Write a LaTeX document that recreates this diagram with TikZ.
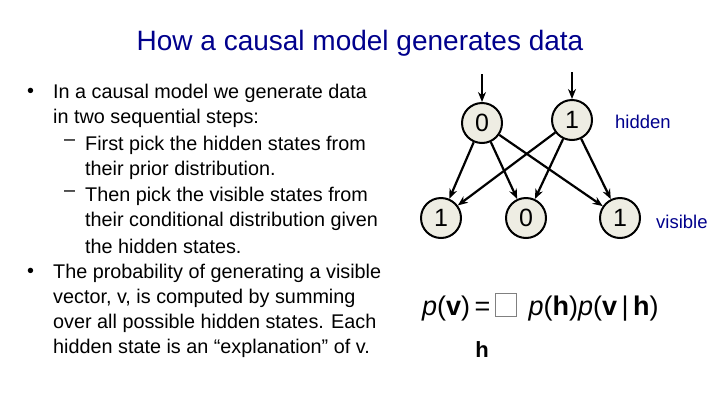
\documentclass[tikz,border=0pt]{standalone}
\usepackage{fontspec}
\setmainfont{Liberation Sans}
\usetikzlibrary{arrows.meta}
\begin{document}
\begin{tikzpicture}[x=1pt,y=-1pt,
  unit/.style={circle,draw,line width=2pt,fill={rgb,255:red,238;green,237;blue,227},minimum size=40pt,inner sep=0pt,font=\fontsize{25}{25}\selectfont},
  conn/.style={-{Stealth[length=10pt,width=8pt]},line width=2.2pt},
  txt/.style={anchor=west,inner sep=0pt,font=\fontsize{19.8}{20}\selectfont},
  lab/.style={anchor=west,inner sep=0pt,text={rgb,255:red,0;green,0;blue,140},font=\fontsize{18.5}{18}\selectfont}]
\useasboundingbox (0,0) rectangle (720,405);
\node[inner sep=0pt,text={rgb,255:red,0;green,0;blue,140},font=\fontsize{28}{28}\selectfont] (title) at (360,43) {How a causal model generates data};
\node[txt] (b1) at (27,93) {•};
\node[txt] (l1) at (53,93) {In a causal model we generate data};
\node[txt] (l2) at (53,118) {in two sequential steps:};
\node[txt] (d1) at (64,143) {–};
\node[txt] (l3) at (85,145) {First pick the hidden states from};
\node[txt] (l4) at (85,170) {their prior distribution.};
\node[txt] (d2) at (64,194) {–};
\node[txt] (l5) at (85,196) {Then pick the visible states from};
\node[txt] (l6) at (85,221) {their conditional distribution given};
\node[txt] (l7) at (85,246) {the hidden states.};
\node[txt] (b2) at (27,273) {•};
\node[txt] (l8) at (53,273) {The probability of generating a visible};
\node[txt] (l9) at (53,298) {vector, v, is computed by summing};
\node[txt] (l10) at (53,323) {over all possible hidden states. Each};
\node[txt] (l11) at (53,348) {hidden state is an “explanation” of v.};
\node[unit] (h0) at (482,123) {0};
\node[unit] (h1) at (572,120) {1};
\node[unit] (v1) at (441,218) {1};
\node[unit] (v0) at (526,218) {0};
\node[unit] (v2) at (620,218) {1};
\coordinate (t0) at (482,74);
\coordinate (t1) at (572,72);
\draw[conn] (t0) -- (h0);
\draw[conn] (t1) -- (h1);
\foreach \a in {h0,h1}{\foreach \b in {v1,v0,v2}{\draw[conn] (\a) -- (\b);}}
\node[lab] (hid) at (615,122) {hidden};
\node[lab] (vis) at (656,222) {visible};
\node[anchor=west,inner sep=0pt,font=\fontsize{27}{27}\selectfont] (eq) at (422,307) {\textit{p}(\textbf{v})\,=\,\tikz[baseline=0pt,x=1pt,y=1pt]\draw[line width=0.6pt,gray] (0,-1) rectangle (21,22);\, \textit{p}(\textbf{h})\textit{p}(\textbf{v}\,|\,\textbf{h})};
\node[inner sep=0pt,font=\bfseries\fontsize{22}{22}\selectfont] (hs) at (482,350) {h};
\end{tikzpicture}
\end{document}
